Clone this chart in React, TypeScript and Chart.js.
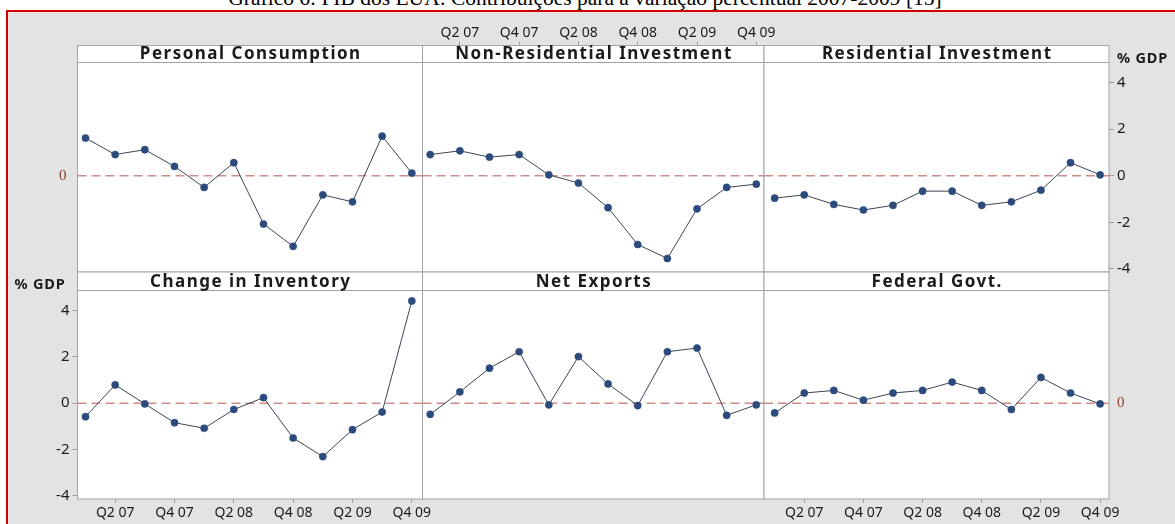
import React, { useEffect, useRef } from "react";
import { Chart, registerables } from "chart.js";

Chart.register(...registerables);

// ---------------- data ----------------
const TITLE = "Gráfico 6: PIB dos EUA: Contribuições para a variação percentual 2007-2009 [15]";
const QUARTERS = ["Q1 07", "Q2 07", "Q3 07", "Q4 07", "Q1 08", "Q2 08", "Q3 08", "Q4 08", "Q1 09", "Q2 09", "Q3 09", "Q4 09"];
const X_TICK_INDEX = [1, 3, 5, 7, 9, 11];
const Y_TICKS = [-4, -2, 0, 2, 4];
const REF_VALUE = 0;
const UNIT_LABEL = "% GDP";

const PANEL_TITLES = [
  "Personal Consumption",
  "Non-Residential Investment",
  "Residential Investment",
  "Change in Inventory",
  "Net Exports",
  "Federal Govt.",
];

const personalConsumption = [1.62, 0.91, 1.12, 0.4, -0.5, 0.56, -2.07, -3.03, -0.82, -1.12, 1.7, 0.11];
const nonResidentialInvestment = [0.91, 1.07, 0.8, 0.91, 0.04, -0.31, -1.37, -2.95, -3.55, -1.42, -0.5, -0.36];
const residentialInvestment = [-0.96, -0.82, -1.23, -1.47, -1.27, -0.66, -0.66, -1.27, -1.12, -0.62, 0.56, 0.04];
const changeInInventory = [-0.58, 0.79, -0.03, -0.84, -1.08, -0.27, 0.24, -1.5, -2.3, -1.14, -0.38, 4.41];
const netExports = [-0.48, 0.49, 1.51, 2.22, -0.07, 2.01, 0.83, -0.1, 2.22, 2.38, -0.52, -0.07];
const federalGovt = [-0.42, 0.44, 0.55, 0.13, 0.44, 0.55, 0.91, 0.55, -0.27, 1.11, 0.44, -0.03];

// ---------------- layout / style ----------------
const W = 1175;
const H = 524;
const Y_MIN = -4.13;
const Y_PLOT_TOP = 4.86;
const COLS: [number, number][] = [
  [77.5, 422.5],
  [422.5, 764],
  [764, 1109],
];
const X_RANGE: [number, number][] = [
  [-0.27, 11.36],
  [-0.26, 11.26],
  [-0.36, 11.3],
];
const ROWS = [
  { headerTop: 45.5, plotTop: 62.5, plotBottom: 272 },
  { headerTop: 272, plotTop: 290.5, plotBottom: 499 },
];
const YW = 40;
const XH = 26;

const TEXT = "#1b1b1b";
const FRAME = "#a3a3a3";
const TICK_MARK = "#9a9a9a";
const REF_LINE = "rgba(200,120,112,0.85)";
const REF_TEXT = "#8a3a2c";
const POINT = "#2c4a7c";
const LINE = "#3a4656";
const SANS = '"Noto Sans", "DejaVu Sans", sans-serif';
const SERIF = '"Liberation Serif", "DejaVu Serif", serif';

type YMode = "left" | "right" | "refLeft" | "refRight" | "none";
type XMode = "top" | "bottom" | "none";
interface Panel {
  title: string;
  values: number[];
  row: number;
  col: number;
  y: YMode;
  x: XMode;
  unit: boolean;
}

const PANELS: Panel[] = [
  { title: PANEL_TITLES[0], values: personalConsumption, row: 0, col: 0, y: "refLeft", x: "none", unit: false },
  { title: PANEL_TITLES[1], values: nonResidentialInvestment, row: 0, col: 1, y: "none", x: "top", unit: false },
  { title: PANEL_TITLES[2], values: residentialInvestment, row: 0, col: 2, y: "right", x: "none", unit: true },
  { title: PANEL_TITLES[3], values: changeInInventory, row: 1, col: 0, y: "left", x: "bottom", unit: true },
  { title: PANEL_TITLES[4], values: netExports, row: 1, col: 1, y: "none", x: "none", unit: false },
  { title: PANEL_TITLES[5], values: federalGovt, row: 1, col: 2, y: "refRight", x: "bottom", unit: false },
];

function makeConfig(p: Panel): any {
  const [L, R] = COLS[p.col];
  const row = ROWS[p.row];
  const pxPerUnit = (row.plotBottom - row.plotTop) / (Y_PLOT_TOP - Y_MIN);
  const yMax = Y_MIN + (row.plotBottom - row.headerTop) / pxPerUnit;
  const yPos = p.y === "right" || p.y === "refRight" ? "right" : "left";
  const xPos = p.x === "top" ? "top" : "bottom";
  const yFull = p.y === "left" || p.y === "right";
  const yRef = p.y === "refLeft" || p.y === "refRight";
  const hasX = p.x !== "none";

  const padding = {
    left: yPos === "left" ? L - YW : L,
    right: yPos === "right" ? W - R - YW : W - R,
    top: xPos === "top" ? row.headerTop - XH : row.headerTop,
    bottom: xPos === "bottom" ? H - row.plotBottom - XH : H - row.plotBottom,
  };

  const panelPlugin = {
    id: "panelDecor",
    beforeDatasetsDraw(chart: any) {
      const { ctx, chartArea: a, scales } = chart;
      ctx.save();
      ctx.fillStyle = "#ffffff";
      ctx.fillRect(a.left, a.top, a.right - a.left, a.bottom - a.top);

      const y0 = scales.y.getPixelForValue(REF_VALUE);
      ctx.strokeStyle = REF_LINE;
      ctx.lineWidth = 1.5;
      ctx.setLineDash([9, 5]);
      ctx.beginPath();
      ctx.moveTo(a.left, y0);
      ctx.lineTo(a.right, y0);
      ctx.stroke();
      ctx.setLineDash([]);

      const hb = row.plotTop;
      ctx.strokeStyle = FRAME;
      ctx.lineWidth = 1;
      ctx.beginPath();
      ctx.moveTo(a.left, hb);
      ctx.lineTo(a.right, hb);
      ctx.stroke();
      ctx.strokeRect(a.left, a.top, a.right - a.left, a.bottom - a.top);

      ctx.fillStyle = TEXT;
      ctx.font = `bold 17px ${SANS}`;
      (ctx as any).letterSpacing = "1.5px";
      ctx.textAlign = "center";
      ctx.textBaseline = "middle";
      ctx.fillText(p.title, (a.left + a.right) / 2 + 0.75, (a.top + hb) / 2 + 0.5);
      (ctx as any).letterSpacing = "0px";

      if (p.unit) {
        ctx.font = `bold 14.5px ${SANS}`;
        (ctx as any).letterSpacing = "0.8px";
        ctx.textBaseline = "middle";
        if (yPos === "left") {
          ctx.textAlign = "right";
          ctx.fillText(UNIT_LABEL, a.left - 12, a.top + 13);
        } else {
          ctx.textAlign = "left";
          ctx.fillText(UNIT_LABEL, a.right + 8, a.top + 13);
        }
        (ctx as any).letterSpacing = "0px";
      }
      ctx.restore();
    },
  };

  return {
    type: "line",
    data: {
      datasets: [
        {
          data: p.values.map((v, i) => ({ x: i, y: v })),
          borderColor: LINE,
          borderWidth: 1,
          pointRadius: 3.6,
          pointBackgroundColor: POINT,
          pointBorderColor: POINT,
          pointBorderWidth: 0.5,
          tension: 0,
          fill: false,
        },
      ],
    },
    options: {
      animation: false,
      responsive: false,
      devicePixelRatio: 1,
      events: [],
      layout: { padding, autoPadding: false },
      plugins: {
        legend: { display: false },
        tooltip: { enabled: false },
        title: { display: false },
      },
      scales: {
        x: {
          type: "linear",
          position: xPos,
          min: X_RANGE[p.col][0],
          max: X_RANGE[p.col][1],
          afterFit: (s: any) => {
            s.height = XH;
          },
          afterBuildTicks: (s: any) => {
            s.ticks = X_TICK_INDEX.map((v) => ({ value: v }));
          },
          border: { display: false },
          grid: {
            display: hasX,
            drawOnChartArea: false,
            drawTicks: hasX,
            tickLength: 4,
            tickColor: TICK_MARK,
            tickWidth: 1,
          },
          ticks: {
            display: hasX,
            autoSkip: false,
            maxRotation: 0,
            minRotation: 0,
            padding: xPos === "top" ? 0 : 2,
            color: TEXT,
            font: { family: SANS, size: 14 },
            callback: (v: any) => QUARTERS[v] ?? "",
          },
        },
        y: {
          type: "linear",
          position: yPos,
          min: Y_MIN,
          max: yMax,
          afterFit: (s: any) => {
            s.width = YW;
          },
          afterBuildTicks: (s: any) => {
            s.ticks = (yRef ? [REF_VALUE] : Y_TICKS).map((v) => ({ value: v }));
          },
          border: { display: false },
          grid: {
            display: yFull,
            drawOnChartArea: false,
            drawTicks: yFull,
            tickLength: 5,
            tickColor: TICK_MARK,
            tickWidth: 1,
          },
          ticks: {
            display: yFull || yRef,
            padding: yRef ? (yPos === "left" ? 11 : 8) : 3,
            color: yRef ? REF_TEXT : TEXT,
            font: yRef ? { family: SERIF, size: 15 } : { family: SANS, size: 15 },
            callback: (v: any) => String(v),
          },
        },
      },
    },
    plugins: [panelPlugin],
  };
}

function PanelCanvas({ panel }: { panel: Panel }) {
  const ref = useRef<HTMLCanvasElement | null>(null);
  useEffect(() => {
    if (!ref.current) return;
    const chart = new Chart(ref.current, makeConfig(panel));
    return () => chart.destroy();
  }, [panel]);
  return (
    <canvas
      ref={ref}
      width={W}
      height={H}
      style={{ position: "absolute", left: 0, top: 0, width: W, height: H }}
    />
  );
}

export default function App() {
  return (
    <div
      style={{
        position: "fixed",
        left: 0,
        top: 0,
        width: W,
        height: H,
        overflow: "hidden",
        background: "#ffffff",
      }}
    >
      <div
        style={{
          position: "absolute",
          left: 0,
          top: -12,
          width: 1170,
          textAlign: "center",
          fontFamily: SERIF,
          fontSize: 21.5,
          lineHeight: "21.5px",
          color: "#000",
          whiteSpace: "nowrap",
        }}
      >
        {TITLE}
      </div>
      <div
        style={{
          position: "absolute",
          left: 6,
          top: 9.5,
          right: 0,
          bottom: 0,
          borderTop: "2.5px solid #d40000",
          borderLeft: "2.5px solid #d40000",
          background: "#e3e3e3",
        }}
      />
      {PANELS.map((p, i) => (
        <PanelCanvas key={i} panel={p} />
      ))}
    </div>
  );
}
